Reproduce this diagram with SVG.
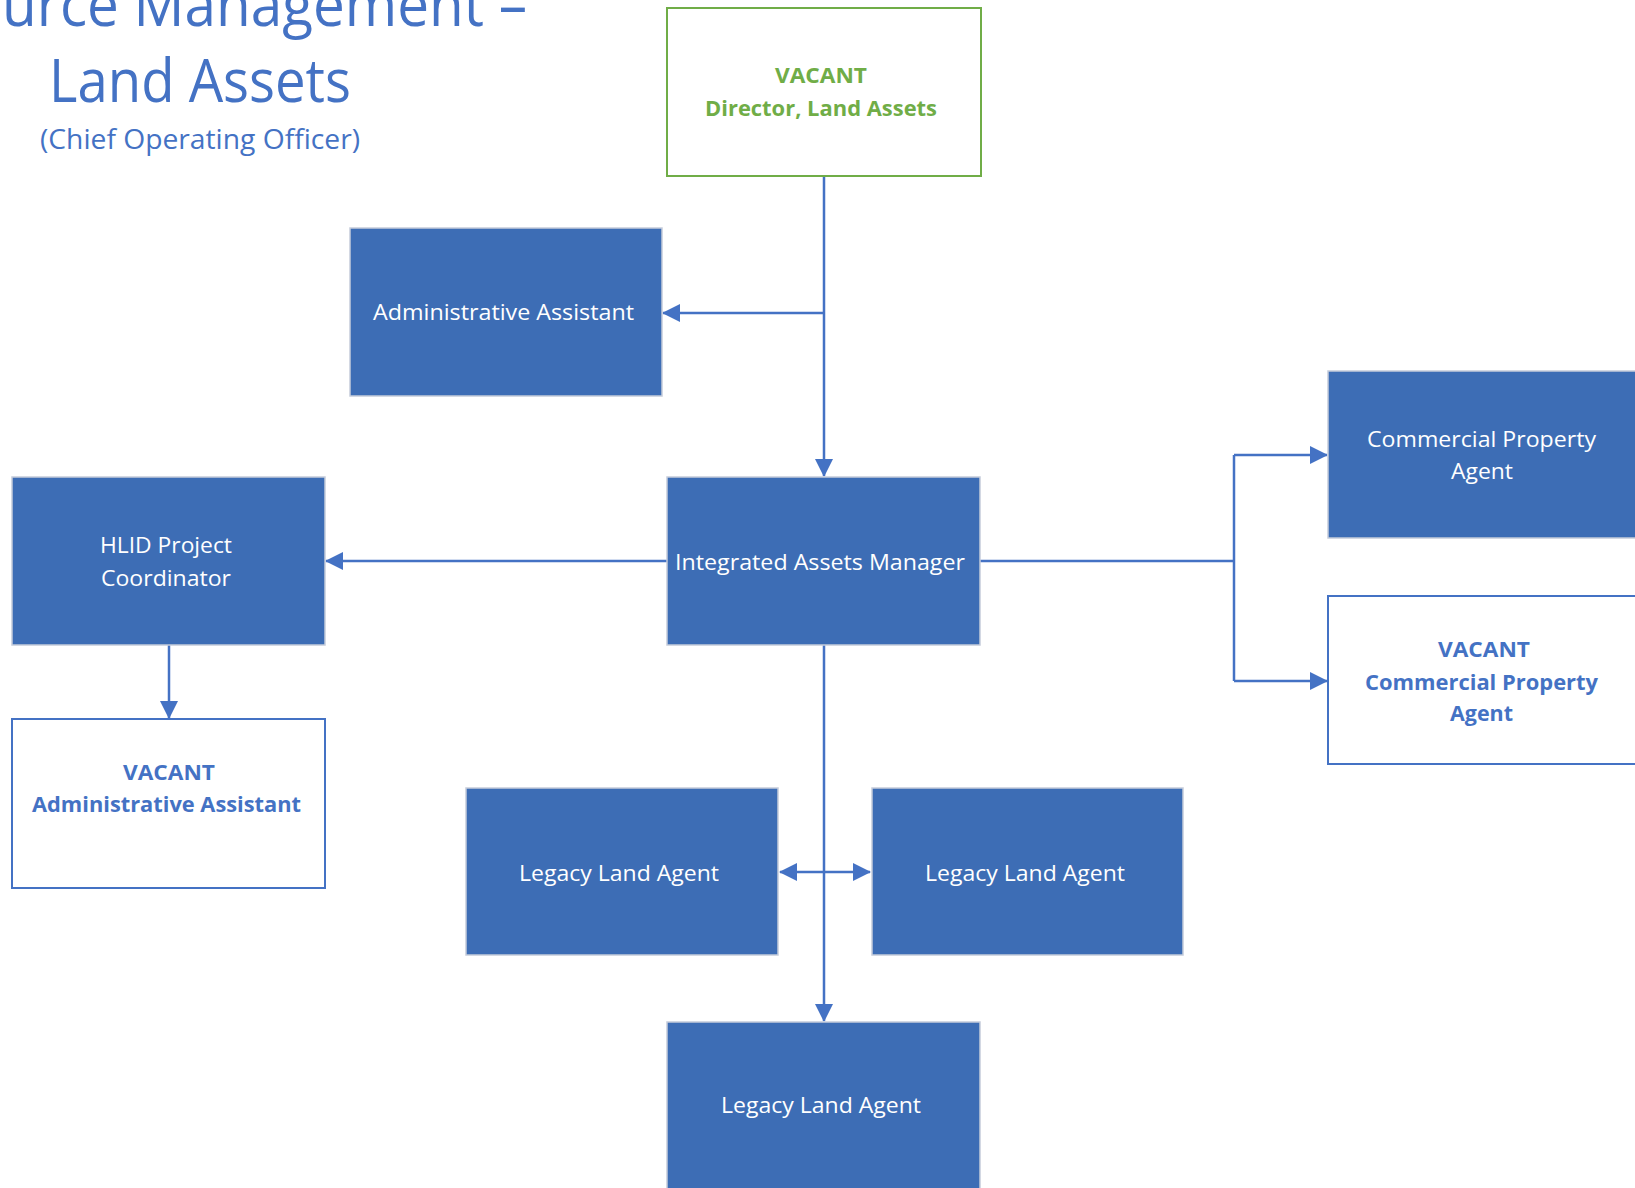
<svg xmlns="http://www.w3.org/2000/svg" width="1635" height="1188" viewBox="0 0 1635 1188">
  <defs>
    <style>
      .box { fill: #3D6DB5; stroke: #C5CCDA; stroke-width: 1.5; }
      .vacant { fill: #FFFFFF; stroke: #4472C4; stroke-width: 2; }
      .director { fill: #FFFFFF; stroke: #70AD47; stroke-width: 2; }
      .label { font-family: "Open Sans", "Noto Sans", sans-serif; font-size: 22px; fill: #FFFFFF; text-anchor: middle; }
      .vlabel { font-family: "Open Sans", "Noto Sans", sans-serif; font-size: 22px; font-weight: bold; fill: #4472C4; text-anchor: middle; }
      .glabel { font-family: "Open Sans", "Noto Sans", sans-serif; font-size: 22px; font-weight: bold; fill: #70AD47; text-anchor: middle; }
      .title { font-family: "Open Sans", "Noto Sans", sans-serif; fill: #4472C4; }
      .link { fill: none; stroke: #4472C4; stroke-width: 2.5; }
    </style>
    <marker id="arrow" viewBox="0 0 18 18" refX="17" refY="9" markerWidth="18" markerHeight="18" markerUnits="userSpaceOnUse" orient="auto-start-reverse">
      <path d="M0,0 L18,9 L0,18 Z" fill="#4472C4"/>
    </marker>
  </defs>

  <rect width="1635" height="1188" fill="#FFFFFF"/>

  <!-- heading -->
  <g id="heading">
    <text class="title" x="2" y="26" font-size="61" textLength="525" lengthAdjust="spacingAndGlyphs">urce Management –</text>
    <text class="title" x="200" y="102" font-size="61" text-anchor="middle" textLength="302" lengthAdjust="spacingAndGlyphs">Land Assets</text>
    <text class="title" x="200" y="149" font-size="27" text-anchor="middle" textLength="320" lengthAdjust="spacingAndGlyphs">(Chief Operating Officer)</text>
  </g>

  <!-- reporting lines -->
  <g id="connectors">
    <path class="link" d="M824,176 V476" marker-end="url(#arrow)"/>
    <path class="link" d="M824,313 H663" marker-end="url(#arrow)"/>
    <path class="link" d="M667,561 H326" marker-end="url(#arrow)"/>
    <path class="link" d="M980,561 H1234"/>
    <path class="link" d="M1234,455 V681"/>
    <path class="link" d="M1234,455 H1327" marker-end="url(#arrow)"/>
    <path class="link" d="M1234,681 H1327" marker-end="url(#arrow)"/>
    <path class="link" d="M824,645 V1021" marker-end="url(#arrow)"/>
    <path class="link" d="M780,872 H870" marker-start="url(#arrow)" marker-end="url(#arrow)"/>
    <path class="link" d="M169,645 V718" marker-end="url(#arrow)"/>
  </g>

  <g id="director">
    <rect class="director" x="667" y="8" width="314" height="168"/>
    <text class="glabel" x="821" y="83" textLength="92" lengthAdjust="spacingAndGlyphs">VACANT</text>
    <text class="glabel" x="821" y="116" textLength="232" lengthAdjust="spacingAndGlyphs">Director, Land Assets</text>
  </g>

  <g id="admin-assistant">
    <rect class="box" x="350" y="228" width="312" height="168"/>
    <text class="label" x="503.5" y="320" textLength="261" lengthAdjust="spacingAndGlyphs">Administrative Assistant</text>
  </g>

  <g id="integrated-assets-manager">
    <rect class="box" x="667" y="477" width="313" height="168"/>
    <text class="label" x="820" y="570" textLength="290" lengthAdjust="spacingAndGlyphs">Integrated Assets Manager</text>
  </g>

  <g id="hlid-coordinator">
    <rect class="box" x="12" y="477" width="313" height="168"/>
    <text class="label" x="166" y="553" textLength="132" lengthAdjust="spacingAndGlyphs">HLID Project</text>
    <text class="label" x="166" y="586" textLength="130" lengthAdjust="spacingAndGlyphs">Coordinator</text>
  </g>

  <g id="vacant-admin-assistant">
    <rect class="vacant" x="12" y="719" width="313" height="169"/>
    <text class="vlabel" x="169" y="780" textLength="92" lengthAdjust="spacingAndGlyphs">VACANT</text>
    <text class="vlabel" x="166.5" y="812" textLength="269" lengthAdjust="spacingAndGlyphs">Administrative Assistant</text>
  </g>

  <g id="commercial-property-agent">
    <rect class="box" x="1328" y="371" width="314" height="167"/>
    <text class="label" x="1481.5" y="447" textLength="229" lengthAdjust="spacingAndGlyphs">Commercial Property</text>
    <text class="label" x="1482" y="479" textLength="62" lengthAdjust="spacingAndGlyphs">Agent</text>
  </g>

  <g id="vacant-commercial-property-agent">
    <rect class="vacant" x="1328" y="596" width="314" height="168"/>
    <text class="vlabel" x="1484" y="657" textLength="92" lengthAdjust="spacingAndGlyphs">VACANT</text>
    <text class="vlabel" x="1481.5" y="690" textLength="233" lengthAdjust="spacingAndGlyphs">Commercial Property</text>
    <text class="vlabel" x="1481.5" y="721" textLength="63" lengthAdjust="spacingAndGlyphs">Agent</text>
  </g>

  <g id="legacy-land-agent-left">
    <rect class="box" x="466" y="788" width="312" height="167"/>
    <text class="label" x="619" y="881" textLength="200" lengthAdjust="spacingAndGlyphs">Legacy Land Agent</text>
  </g>

  <g id="legacy-land-agent-right">
    <rect class="box" x="872" y="788" width="311" height="167"/>
    <text class="label" x="1025" y="881" textLength="200" lengthAdjust="spacingAndGlyphs">Legacy Land Agent</text>
  </g>

  <g id="legacy-land-agent-bottom">
    <rect class="box" x="667" y="1022" width="313" height="170"/>
    <text class="label" x="821" y="1113" textLength="200" lengthAdjust="spacingAndGlyphs">Legacy Land Agent</text>
  </g>
</svg>
